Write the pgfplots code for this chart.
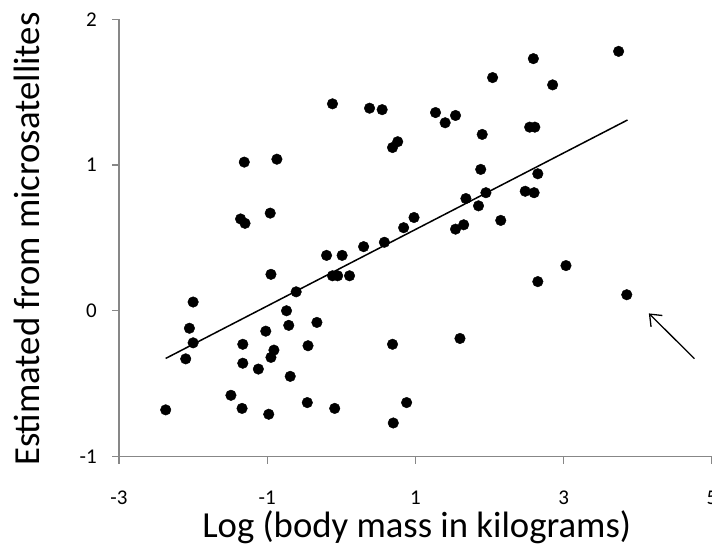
\documentclass[border=0pt]{standalone}
\usepackage{fontspec}
\setmainfont{Carlito}
\usepackage{pgfplots}
\pgfplotsset{compat=1.18}
\usetikzlibrary{arrows.meta}
\definecolor{axgray}{HTML}{878787}
\begin{document}
\begin{tikzpicture}
\begin{axis}[
  name=ax,
  /pgf/number format/assume math mode=true,
  scale only axis,
  width=593pt, height=437.2pt,
  xmin=-3, xmax=5, ymin=-1, ymax=2,
  axis x line*=bottom, axis y line*=left,
  axis line style={axgray, line width=1.3pt},
  xtick={-3,-1,1,3,5}, xticklabels={-3,-1,1,3,5},
  ytick={-1,0,1,2}, yticklabels={-1,0,1,2},
  tick align=outside,
  major tick length=7pt,
  tick style={axgray, line width=1.3pt},
  tick label style={font=\fontsize{21}{23}\selectfont, inner sep=0pt},
  xticklabel style={anchor=base, yshift=-40.5pt},
  yticklabel style={anchor=east, xshift=-15pt},
  xlabel={Log (body mass in kilograms)},
  ylabel={Estimated from microsatellites},
  label style={font=\fontsize{36.7}{40}\selectfont, inner sep=0pt},
  xlabel style={at={(axis description cs:0.502,0)}, anchor=base, yshift=-80.5pt},
  ylabel style={at={(axis description cs:-0.1551,0.497)}, anchor=center},
  clip=false,
]
\addplot[only marks, mark=*, mark size=5.3pt, black] coordinates {
(-0.12,1.42) (-1.31,1.02) (-0.87,1.04) (-0.96,0.67) (-1.36,0.63) (-1.30,0.60)
(0.38,1.39) (0.55,1.38) (1.27,1.36) (1.40,1.29) (1.54,1.34) (2.04,1.60)
(2.59,1.73) (2.85,1.55) (2.54,1.26) (2.61,1.26) (1.90,1.21) (0.69,1.12)
(0.76,1.16) (1.88,0.97) (2.65,0.94) (2.48,0.82) (2.60,0.81) (1.95,0.81)
(1.68,0.77) (1.85,0.72) (2.15,0.62) (0.98,0.64) (0.84,0.57) (1.54,0.56)
(1.65,0.59) (0.30,0.44) (0.58,0.47) (3.74,1.78) (-0.20,0.38) (0.01,0.38)
(-0.12,0.24) (-0.05,0.24) (0.11,0.24) (-0.95,0.25) (-0.61,0.13) (-2.00,0.06)
(-2.05,-0.12) (-2.00,-0.22) (-2.10,-0.33) (-2.37,-0.68) (-1.33,-0.23) (-1.33,-0.36)
(-1.02,-0.14) (-0.91,-0.27) (-0.95,-0.32) (-1.12,-0.40) (-0.74,0.00) (-0.71,-0.10)
(-0.33,-0.08) (-0.45,-0.24) (-0.69,-0.45) (-1.49,-0.58) (-1.34,-0.67) (-0.98,-0.71)
(-0.46,-0.63) (-0.09,-0.67) (2.65,0.20) (3.03,0.31) (0.69,-0.23) (1.60,-0.19)
(0.88,-0.63) (0.70,-0.77) (3.85,0.11)
};
\addplot[black, line width=1.5pt] coordinates {(-2.37,-0.327) (3.86,1.309)};
\draw[black, line width=1.3pt, -{Straight Barb[length=10pt, width=16pt]}] (axis cs:4.764,-0.329) -- (axis cs:4.148,-0.018);
\end{axis}
\pgfresetboundingbox
\path[use as bounding box] ([xshift=-119pt, yshift=-93.5pt]ax.south west) rectangle ([yshift=19.3pt]ax.north east);
\end{tikzpicture}
\end{document}
